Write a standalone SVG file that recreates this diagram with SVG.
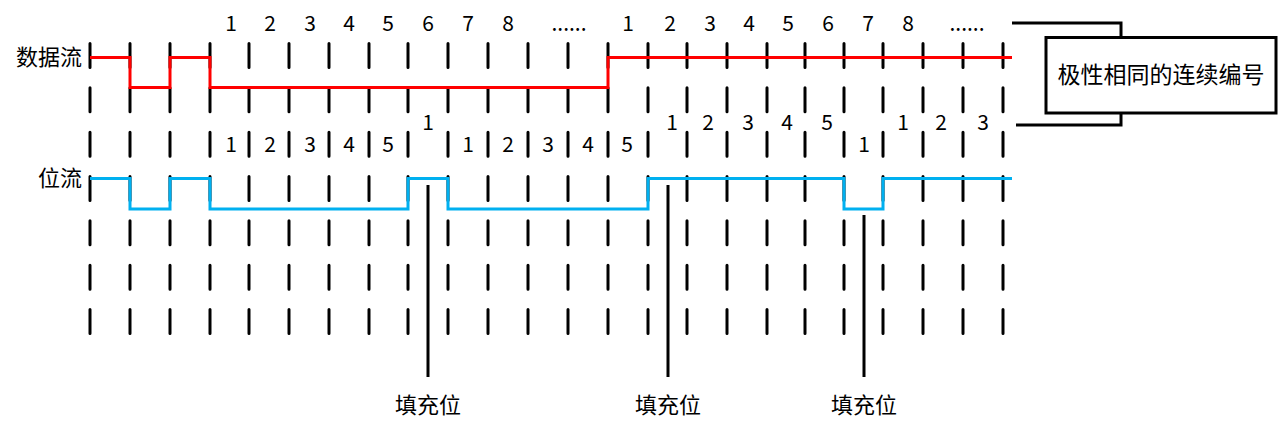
<svg xmlns="http://www.w3.org/2000/svg" width="1280" height="430" viewBox="0 0 1280 430">
<style>
text{font-family:"Noto Sans CJK SC","Microsoft YaHei","Noto Sans",sans-serif;fill:#000;}
.num{font-size:21px;text-anchor:middle;}
.lbl{font-size:22px;}
.grid{stroke:#000;stroke-width:3;stroke-linecap:round;stroke-dasharray:24 20.33;fill:none;}
.sig-r{stroke:#FF0000;stroke-width:3;fill:none;}
.sig-b{stroke:#00B0F0;stroke-width:3;fill:none;}
.ptr{stroke:#000;stroke-width:3;fill:none;}
</style>
<rect width="1280" height="430" fill="#fff"/>
<g id="connectors">
<g id="grid">
<path class="grid" d="M90 43.5V336M130 43.5V336M170 43.5V336M210 43.5V336M249 43.5V336M289 43.5V336M329 43.5V336M369 43.5V336M408 43.5V336M448 43.5V336M488 43.5V336M528 43.5V336M568 43.5V336M608 43.5V336M648 43.5V336M687 43.5V336M727 43.5V336M767 43.5V336M805 43.5V336M844 43.5V336M883 43.5V336M923 43.5V336M963 43.5V336M1003 43.5V336"/>
</g>
<path id="data-stream" class="sig-r" d="M90 57.5H130V87.5H170V57.5H210V87.5H608V57.5H1012"/>
<path id="bit-stream" class="sig-b" d="M90 178.5H130V209H170V178.5H210V209H408V178.5H448V209H648V178.5H844V209H883V178.5H1012"/>
<path class="ptr" d="M428 185V377M668 185V377M864 215V377"/>
<path class="ptr" d="M1012 23H1121V37M1016 125H1121V113"/>
</g>
<g id="label-data"><text class="lbl" x="82" y="65" text-anchor="end">数据流</text></g>
<g id="label-bit"><text class="lbl" x="82" y="186" text-anchor="end">位流</text></g>
<g id="data-numbers">
<text class="num" x="231" y="31">1</text>
<text class="num" x="270" y="31">2</text>
<text class="num" x="310" y="31">3</text>
<text class="num" x="349" y="31">4</text>
<text class="num" x="388" y="31">5</text>
<text class="num" x="428" y="31">6</text>
<text class="num" x="468" y="31">7</text>
<text class="num" x="508" y="31">8</text>
<text class="num" x="569" y="31">......</text>
<text class="num" x="628" y="31">1</text>
<text class="num" x="670" y="31">2</text>
<text class="num" x="710" y="31">3</text>
<text class="num" x="749" y="31">4</text>
<text class="num" x="788" y="31">5</text>
<text class="num" x="828" y="31">6</text>
<text class="num" x="868" y="31">7</text>
<text class="num" x="908" y="31">8</text>
<text class="num" x="967" y="31">......</text>
</g>
<g id="bit-numbers">
<text class="num" x="231" y="152">1</text>
<text class="num" x="270" y="152">2</text>
<text class="num" x="310" y="152">3</text>
<text class="num" x="349" y="152">4</text>
<text class="num" x="388" y="152">5</text>
<text class="num" x="428" y="130">1</text>
<text class="num" x="468" y="152">1</text>
<text class="num" x="508" y="152">2</text>
<text class="num" x="548" y="152">3</text>
<text class="num" x="588" y="152">4</text>
<text class="num" x="627" y="152">5</text>
<text class="num" x="672" y="130">1</text>
<text class="num" x="708" y="130">2</text>
<text class="num" x="748" y="130">3</text>
<text class="num" x="787" y="130">4</text>
<text class="num" x="827" y="130">5</text>
<text class="num" x="864" y="152">1</text>
<text class="num" x="903" y="130">1</text>
<text class="num" x="941" y="130">2</text>
<text class="num" x="983" y="130">3</text>
</g>
<g id="stuff-1"><text class="lbl" x="428" y="413" text-anchor="middle">填充位</text></g>
<g id="stuff-2"><text class="lbl" x="668" y="413" text-anchor="middle">填充位</text></g>
<g id="stuff-3"><text class="lbl" x="864" y="413" text-anchor="middle">填充位</text></g>
<g id="note-box">
<rect x="1046" y="37.5" width="230" height="75.5" fill="#fff" stroke="#000" stroke-width="3"/>
<text x="1161" y="83" font-size="23" text-anchor="middle">极性相同的连续编号</text>
</g>
</svg>
